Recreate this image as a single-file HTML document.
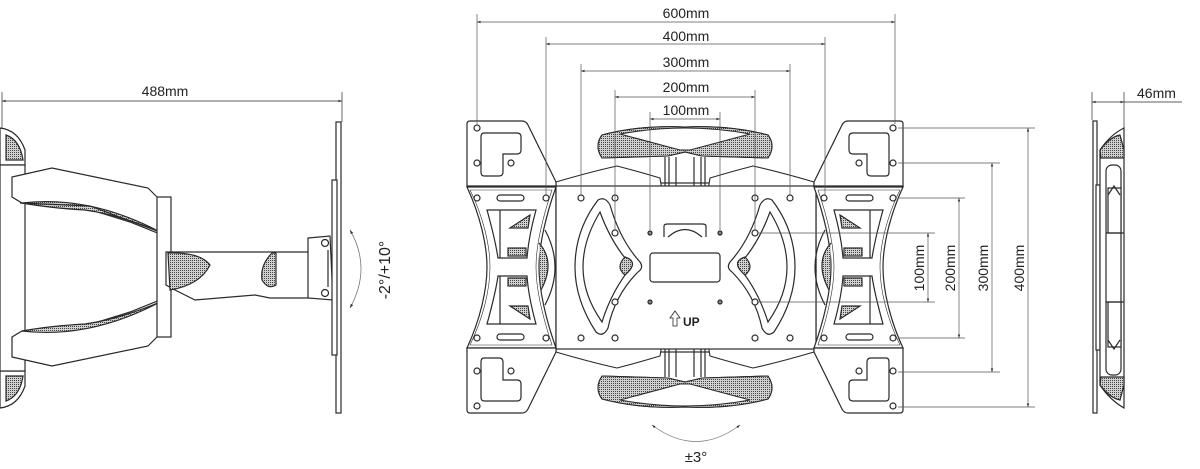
<!DOCTYPE html>
<html><head><meta charset="utf-8"><style>
html,body{margin:0;padding:0;background:#fff;}
svg{display:block;}
text{font-family:"Liberation Sans",Arial,sans-serif;fill:#222;}
</style></head><body>
<svg width="1200" height="469" viewBox="0 0 1200 469" xmlns="http://www.w3.org/2000/svg">
<defs>
<pattern id="h" width="2" height="2" patternUnits="userSpaceOnUse"><rect width="2" height="2" fill="#d0d0d0"/><rect width="1" height="1" fill="#444"/></pattern>
<marker id="a" viewBox="0 0 10 10" refX="10" refY="5" markerWidth="9" markerHeight="5" orient="auto-start-reverse"><path d="M0,1.5 L10,5 L0,8.5 Z" fill="#333"/></marker>
<g id="lp" fill="#fff" stroke="#2a2a2a" stroke-width="1.2">
  <path d="M467,124 Q467,121 470,121 L522,121 Q526,121 528,125 L556,182 L556,186 L467,186 Z"/>
  <path d="M484,133 L517,133 Q521,133 521,137 L521,150 Q521,154 517,154 L503,154 L503,172 Q503,176 499,176 L484,176 Q481,176 481,172 L481,137 Q481,133 484,133Z"/>
  <circle cx="477" cy="128" r="3"/><circle cx="477" cy="163" r="3"/><circle cx="511" cy="163" r="3"/>
</g>
<g id="lm" fill="#fff" stroke="#2a2a2a" stroke-width="1.2">
  <path d="M467,187 L556,187 C546,215 539,245 539,267 C539,290 546,320 556,348 L467,348 C480,320 487,290 487,267 C487,245 480,215 467,187Z"/>
  <path d="M470,190 L552,190 C543,216 536,245 536,267 C536,290 543,318 552,345 L470,345 C483,318 490,290 490,267 C490,245 483,216 470,190Z" fill="none" stroke-width="0.6"/>
  <path d="M487,210 L536,210 C531,228 528,245 527,258 L498,258 C496,245 492,228 487,210Z"/>
  <path d="M498,276 L527,276 C528,290 531,306 536,324 L487,324 C492,306 496,290 498,276Z"/>
  <line x1="500" y1="210" x2="500" y2="258"/><line x1="500" y1="276" x2="500" y2="324"/>
  <path d="M510,228 L530,215 L528,228Z" fill="url(#h)"/><path d="M510,306 L530,319 L528,306Z" fill="url(#h)"/>
  <rect x="508" y="248" width="18" height="8" fill="url(#h)"/><rect x="508" y="278" width="18" height="8" fill="url(#h)"/>
  <rect x="497" y="195" width="27" height="6" rx="3"/><rect x="497" y="334" width="27" height="6" rx="3"/>
  <circle cx="477" cy="198" r="3"/><circle cx="546" cy="198" r="3"/><circle cx="477" cy="338" r="3"/><circle cx="546" cy="338" r="3"/>
  <path d="M539,243 Q556,262 541,290" fill="url(#h)"/>
  <path d="M545,230 Q565,267 545,305" fill="none"/>
</g>
<g id="tp" stroke="#2a2a2a" stroke-width="1.1">
  <path d="M556,182 Q590,172 617,166 Q640,172 660,178 L662,190 L600,192 Q585,186 556,186Z" fill="#fff"/>
  <path d="M602,135 Q640,125 685,127 Q730,125 768,135 Q776,146 768,158 L702,156 L685,152 L668,156 L602,158 Q594,146 602,135Z" fill="url(#h)"/>
  <path d="M620,134 Q685,122 750,134 L690,150 L680,150 Z" fill="#fff"/>
  <path d="M665,157 L665,188 M669,157 L669,188 M676,157 L676,188 M694,157 L694,188 M701,157 L701,188 M705,157 L705,188" fill="none"/>
</g>
</defs>

<!-- ===== Left side view ===== -->
<g stroke="#2a2a2a" stroke-width="1.2" fill="#fff">
  <line x1="2" y1="92" x2="2" y2="130" stroke-width="0.7"/>
  <line x1="342" y1="92" x2="342" y2="122" stroke-width="0.7"/>
  <line x1="2" y1="101" x2="342" y2="101" stroke-width="0.7" marker-start="url(#a)" marker-end="url(#a)"/>
  <path d="M0,128 Q18,130 25,150 L25,165 L0,165Z"/>
  <path d="M6,135 Q20,140 23,160 L6,160Z" fill="url(#h)"/>
  <path d="M0,408 Q18,406 25,386 L25,371 L0,371Z"/>
  <path d="M6,401 Q20,396 23,376 L6,376Z" fill="url(#h)"/>
  <rect x="0" y="165" width="25" height="206"/>
  <path d="M12,177 L52,168 L148,188 L160,200 L166,226 L160,234 L130,222 L85,208 L22,203 L12,197Z"/>
  <path d="M22,203 Q90,195 160,232 Q120,215 85,210 Q50,208 22,203Z" fill="url(#h)"/>
  <path d="M20,203 L90,206 L160,232" fill="none"/>
  <path d="M12,357 L52,366 L148,346 L160,334 L166,308 L160,300 L130,312 L85,326 L22,331 L12,337Z"/>
  <path d="M22,331 Q90,339 160,302 Q120,319 85,324 Q50,326 22,331Z" fill="url(#h)"/>
  <rect x="157" y="197" width="14" height="140"/>
  <path d="M166,252 L310,252 L312,298 L270,298 L255,295 L195,300 L175,290 L166,285Z"/>
  <path d="M168,253 Q200,252 210,265 Q200,285 170,290Z" fill="url(#h)"/>
  <path d="M272,253 Q260,265 262,280 Q268,290 276,285 L276,253Z" fill="url(#h)"/>
  <path d="M308,238 L330,236 L333,300 L308,298Z"/>
  <circle cx="325" cy="243" r="3.5"/><circle cx="325" cy="293" r="3.5"/>
  <line x1="328" y1="250" x2="328" y2="287"/>
  <rect x="336" y="122" width="5" height="291"/>
  <rect x="332" y="180" width="5" height="175"/>
  <path d="M350,230 Q372,268 350,308" fill="none" stroke="#777" stroke-width="0.8" marker-start="url(#a)" marker-end="url(#a)"/>
</g>
<text x="165" y="96" font-size="14" text-anchor="middle">488mm</text>
<text transform="translate(390,270) rotate(-90)" font-size="16" text-anchor="middle">-2°/+10°</text>

<!-- ===== Front view ===== -->
<g stroke="#2a2a2a" stroke-width="1.2" fill="#fff">
  <rect x="556" y="183" width="260" height="169"/>
  <use href="#tp"/>
  <use href="#tp" transform="translate(1370,0) scale(-1,1)"/>
  <use href="#tp" transform="translate(0,534) scale(1,-1)"/>
  <use href="#tp" transform="translate(1370,534) scale(-1,-1)"/>
  <rect x="556" y="186" width="260" height="163"/>
  <path d="M598,200 Q605,196 610,205 Q620,240 640,262 Q644,268 638,272 Q615,295 608,328 Q603,338 596,332 Q575,300 575,267 Q575,230 598,200Z"/>
  <path d="M600,212 Q612,245 632,266 Q612,290 602,322 Q583,295 583,267 Q583,240 600,212Z" fill="none"/>
  <path d="M625,257 Q640,262 625,275 Q615,267 625,257Z" fill="url(#h)"/>
  <path d="M772,200 Q765,196 760,205 Q750,240 730,262 Q726,268 732,272 Q755,295 762,328 Q767,338 774,332 Q795,300 795,267 Q795,230 772,200Z"/>
  <path d="M770,212 Q758,245 738,266 Q758,290 768,322 Q787,295 787,267 Q787,240 770,212Z" fill="none"/>
  <path d="M745,257 Q730,262 745,275 Q755,267 745,257Z" fill="url(#h)"/>
  <rect x="650" y="253" width="70" height="29" rx="3"/>
  <path d="M664,237 L664,226 Q664,224 668,224 L702,224 Q706,224 706,226 L706,237 M668,237 Q685,222 702,237" fill="none"/>
  <use href="#lp"/><use href="#lm"/>
  <use href="#lp" transform="translate(0,534) scale(1,-1)"/>
  <use href="#lp" transform="translate(1370,0) scale(-1,1)"/>
  <use href="#lm" transform="translate(1370,0) scale(-1,1)"/>
  <use href="#lp" transform="translate(1370,534) scale(-1,-1)"/>
  <g fill="#fff">
  <circle cx="581" cy="198" r="3"/><circle cx="615" cy="198" r="3"/><circle cx="755" cy="198" r="3"/><circle cx="790" cy="198" r="3"/>
  <circle cx="615" cy="233" r="3"/><circle cx="755" cy="233" r="3"/><circle cx="615" cy="302" r="3"/><circle cx="755" cy="302" r="3"/>
  <circle cx="581" cy="338" r="3"/><circle cx="615" cy="338" r="3"/><circle cx="755" cy="338" r="3"/><circle cx="790" cy="338" r="3"/>
  <circle cx="650" cy="233" r="2" fill="#888"/><circle cx="720" cy="233" r="2" fill="#888"/><circle cx="650" cy="302" r="2" fill="#888"/><circle cx="720" cy="302" r="2" fill="#888"/>
  </g>
  <path d="M673,326 L673,318 L670,318 L675,311 L680,318 L677,318 L677,326Z" stroke-width="0.8"/>
</g>
<text x="683" y="326" font-size="12" font-weight="bold">UP</text>

<g stroke="#555" stroke-width="0.7" fill="none">
  <path d="M477,14 V124 M895,14 V124 M546,37 V195 M825,37 V195 M581,64 V195 M790,64 V195 M615,90 V230 M755,90 V230 M650,112 V230 M720,112 V230"/>
  <line x1="477" y1="22" x2="895" y2="22" marker-start="url(#a)" marker-end="url(#a)"/>
  <line x1="546" y1="44" x2="825" y2="44" marker-start="url(#a)" marker-end="url(#a)"/>
  <line x1="581" y1="71" x2="790" y2="71" marker-start="url(#a)" marker-end="url(#a)"/>
  <line x1="615" y1="97" x2="755" y2="97" marker-start="url(#a)" marker-end="url(#a)"/>
  <line x1="650" y1="119" x2="720" y2="119" marker-start="url(#a)" marker-end="url(#a)"/>
  <path d="M898,128 H1035 M898,163 H1000 M898,198 H965 M758,233 H935 M758,302 H935 M898,338 H965 M898,372 H1000 M898,407 H1035"/>
  <line x1="928" y1="233" x2="928" y2="302" marker-start="url(#a)" marker-end="url(#a)"/>
  <line x1="959" y1="198" x2="959" y2="338" marker-start="url(#a)" marker-end="url(#a)"/>
  <line x1="992" y1="163" x2="992" y2="372" marker-start="url(#a)" marker-end="url(#a)"/>
  <line x1="1028" y1="128" x2="1028" y2="407" marker-start="url(#a)" marker-end="url(#a)"/>
  <path d="M652,425 Q696,458 740,425" stroke="#777" marker-start="url(#a)" marker-end="url(#a)"/>
</g>
<g font-size="14" text-anchor="middle">
  <text x="686" y="18">600mm</text>
  <text x="686" y="41">400mm</text>
  <text x="686" y="67">300mm</text>
  <text x="686" y="92">200mm</text>
  <text x="686" y="115">100mm</text>
  <text transform="translate(924,268) rotate(-90)">100mm</text>
  <text transform="translate(955,268) rotate(-90)">200mm</text>
  <text transform="translate(988,268) rotate(-90)">300mm</text>
  <text transform="translate(1024,268) rotate(-90)">400mm</text>
  <text x="696" y="462" font-size="15">±3°</text>
</g>

<g stroke="#2a2a2a" stroke-width="1.2" fill="#fff">
  <path d="M1092,92 V120 M1124,92 V128" stroke-width="0.7" fill="none"/>
  <line x1="1092" y1="102" x2="1124" y2="102" stroke-width="0.7" marker-start="url(#a)" marker-end="url(#a)"/>
  <line x1="1124" y1="102" x2="1182" y2="102" stroke-width="0.7"/>
  <rect x="1093" y="121" width="4" height="292"/>
  <rect x="1096" y="185" width="4" height="165"/>
  <path d="M1100,150 Q1110,135 1124,128 L1124,408 Q1110,400 1100,385Z"/>
  <path d="M1100,150 Q1110,137 1120,135 L1124,150 L1124,158 L1101,158Z" fill="url(#h)"/>
  <path d="M1100,385 Q1110,398 1120,400 L1124,385 L1124,377 L1101,377Z" fill="url(#h)"/>
  <rect x="1106" y="165" width="15" height="210" rx="6"/>
  <rect x="1108" y="188" width="13" height="45"/>
  <path d="M1108,195 L1114,186 L1120,195" fill="none"/>
  <rect x="1108" y="302" width="13" height="45"/>
  <path d="M1108,340 L1114,349 L1120,340" fill="none"/>
  <line x1="1106" y1="233" x2="1124" y2="233"/><line x1="1106" y1="302" x2="1124" y2="302"/>
</g>
<text x="1137" y="98" font-size="14">46mm</text>
</svg>
</body></html>
